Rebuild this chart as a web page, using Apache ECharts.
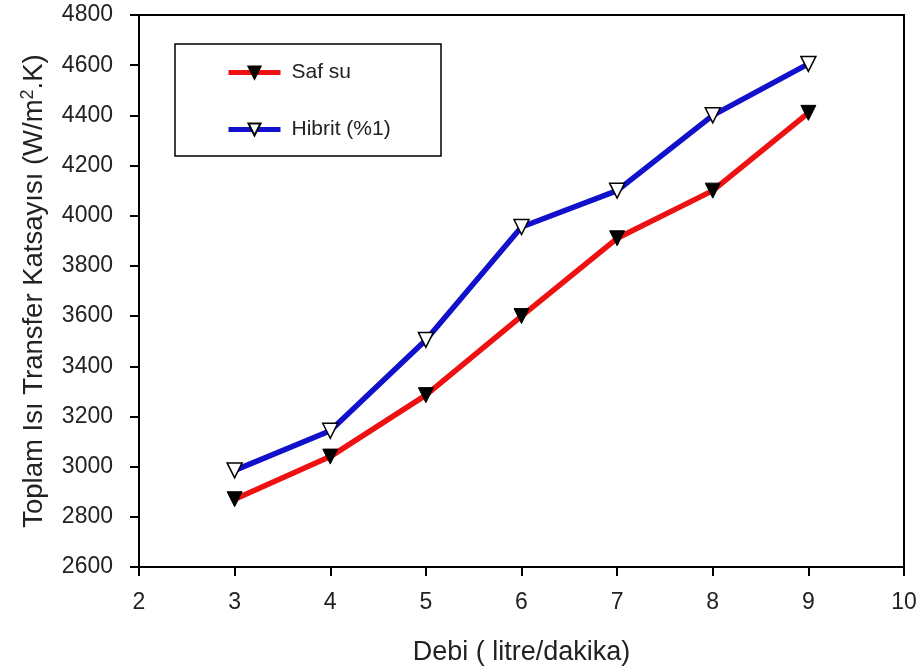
<!DOCTYPE html>
<html><head><meta charset="utf-8">
<script src="https://cdn.jsdelivr.net/npm/echarts@6/dist/echarts.min.js"></script>
<style>html,body{margin:0;padding:0;background:#fff}#c{width:923px;height:671px}</style>
</head><body><div id="c"></div>
<script>
var xValues = [3, 4, 5, 6, 7, 8, 9];
var safSu = [2870, 3040, 3285, 3600, 3910, 4100, 4410];
var hibrit = [2985, 3143, 3505, 3955, 4100, 4400, 4605];
var seriesNames = ['Saf su', 'Hibrit (%1)'];
var xTitle = 'Debi ( litre/dakika)';

function pairs(v){ return xValues.map(function(x,i){ return [x, v[i]]; }); }
var font = 'Liberation Sans, Arial, sans-serif';
var chart = echarts.init(document.getElementById('c'), null, {renderer:'canvas'});
chart.setOption({
  animation:false,
  backgroundColor:'#fff',
  grid:{left:139, right:19, top:15, bottom:104, show:true, borderColor:'#000', borderWidth:2, backgroundColor:'transparent'},
  graphic:[{type:'rect', shape:{x:175, y:44, width:266, height:112}, style:{fill:'transparent', stroke:'#000', lineWidth:1.5}, z:10}],
  legend:{
    data:seriesNames, orient:'vertical', left:226, top:62, itemGap:36, itemWidth:52, itemHeight:15,
    lineStyle:{width:5},
    textStyle:{fontFamily:font, fontSize:21, color:'#222', padding:[0,0,0,6]}, borderWidth:0, padding:0
  },
  xAxis:{
    type:'value', min:2, max:10, interval:1,
    name:xTitle, nameLocation:'middle', nameGap:72,
    nameTextStyle:{fontFamily:font, fontSize:27, color:'#222'},
    axisLine:{lineStyle:{color:'#000', width:2}},
    axisTick:{show:true, inside:false, length:9, lineStyle:{color:'#000', width:2}},
    axisLabel:{fontFamily:font, fontSize:23, color:'#222', margin:24, formatter:function(v){return String(v);}},
    splitLine:{show:false}
  },
  yAxis:{
    type:'value', min:2600, max:4800, interval:200,
    name:'{a|Toplam Isı Transfer Katsayısı (W/m}{s|2}{a|.K)}', nameLocation:'middle', nameGap:90,
    nameTextStyle:{rich:{a:{fontFamily:font, fontSize:27.5, color:'#222'}, s:{fontFamily:font, fontSize:18, color:'#222', verticalAlign:'bottom', padding:[0,0,12,0]}}},
    axisLine:{lineStyle:{color:'#000', width:2}},
    axisTick:{show:true, inside:false, length:9, lineStyle:{color:'#000', width:2}},
    axisLabel:{fontFamily:font, fontSize:23, color:'#222', margin:26, formatter:function(v){return String(v);}},
    splitLine:{show:false}
  },
  series:[
    {name:seriesNames[0], type:'line', data:pairs(safSu), symbol:'triangle', symbolRotate:180, symbolSize:15,
     lineStyle:{color:'#ee1111', width:5.5}, itemStyle:{color:'#000', borderColor:'#000', borderWidth:1}, z:3},
    {name:seriesNames[1], type:'line', data:pairs(hibrit), symbol:'triangle', symbolRotate:180, symbolSize:15,
     lineStyle:{color:'#1111cc', width:5.5}, itemStyle:{color:'#fff', borderColor:'#000', borderWidth:1.5}, z:3}
  ]
});
</script></body></html>
